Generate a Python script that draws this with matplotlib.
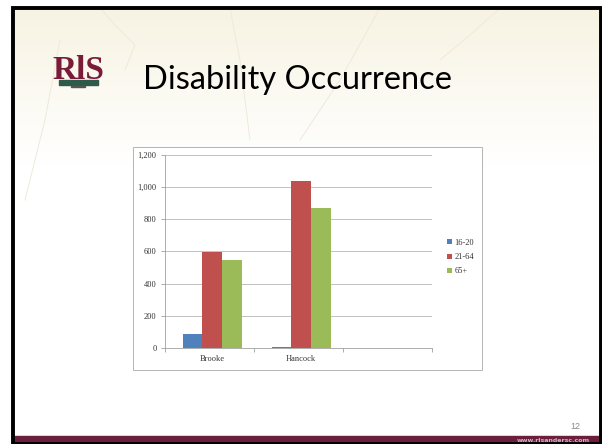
import numpy as np
import matplotlib.pyplot as plt
from matplotlib.patches import Rectangle

# data
categories = ['Brooke', 'Hancock', '']
series = ['16-20', '21-64', '65+']
values = {
    '16-20': [85, 8, 0],
    '21-64': [597, 1040, 0],
    '65+': [545, 872, 0],
}
colors = ['#4F81BD', '#C0504D', '#9BBB59']
yticks = [0, 200, 400, 600, 800, 1000, 1200]

W, H = 602, 444
fig = plt.figure(figsize=(W / 100, H / 100), dpi=100)
fig.patch.set_facecolor('white')

# slide background (pixel coords)
bg = fig.add_axes([0, 0, 1, 1])
bg.set_xlim(0, W)
bg.set_ylim(H, 0)
bg.axis('off')

grad = np.linspace(0, 1, 200)[:, None]
top = np.array([247, 243, 226]) / 255
bot = np.array([255, 255, 255]) / 255
t = np.clip(grad * 1.6, 0, 1)
img = top * (1 - t)[..., None] + bot * t[..., None]
img = np.repeat(img, 2, axis=1)
bg.imshow(img, extent=[13, 601, 260, 8], aspect='auto', zorder=0)

# faint decorative curves
for xs, ys in [([25, 45, 60], [200, 120, 40]), ([100, 115, 135, 125], [8, 25, 45, 70]),
               ([230, 240, 250], [8, 60, 140]), ([300, 340, 380], [140, 80, 8]),
               ([440, 470, 500], [60, 35, 8])]:
    bg.plot(xs, ys, color='#efe9d8', lw=0.7, zorder=1)

# slide frame
bg.add_patch(Rectangle((13, 8), 588, 436, fill=False, ec='black', lw=2.8, zorder=5))
bg.add_patch(Rectangle((14, 435.5), 587, 9, color='#6b1f3c', zorder=4))
bg.text(590, 440.5, 'www.rlsandersc.com', color='#cdb3bf', fontsize=4.5,
        ha='right', va='center', family='DejaVu Sans', fontweight='bold', zorder=6)
bg.text(580, 431, '12', color='#8c8c8c', fontsize=6.5, ha='right', va='bottom',
        family='Liberation Sans')

# logo
bg.text(78, 79, 'RlS', color='#7a1b3a', fontsize=24, ha='center', va='baseline',
        family='Liberation Serif', fontweight='bold')
bg.add_patch(Rectangle((59, 80), 39, 5.5, color='#2f5a4a', zorder=3))
bg.add_patch(Rectangle((71, 86), 14, 1.2, color='#555555', zorder=3))

# title
bg.text(143, 89, 'Disability Occurrence', fontsize=23.5, family='Lato',
        ha='left', va='baseline', color='black')

# chart box
bg.add_patch(Rectangle((133, 147), 349, 223, fc='white', ec='#b4b4b4', lw=0.7, zorder=2))

# chart
ax = fig.add_axes([165 / W, 1 - 348 / H, 267 / W, 193 / H])
ax.set_facecolor('none')
x = np.arange(len(categories))
bw = 0.22
for i, (s, c) in enumerate(zip(series, colors)):
    ax.bar(x + (i - 1) * bw + 0.03, values[s], bw, color=c, label=s, zorder=3)

ax.set_xlim(-0.5, len(categories) - 0.5)
ax.set_ylim(0, 1200)
ax.set_yticks(yticks)
ax.set_yticklabels([f'{v:,}' for v in yticks])
ax.set_xticks(x + 0.03)
ax.set_xticklabels(categories)
ax.set_xticks(np.arange(-0.5, len(categories)), minor=True)
ax.tick_params(axis='x', which='major', length=0, pad=5)
ax.tick_params(axis='x', which='minor', length=3, color='#a0a0a0', width=0.6)
ax.tick_params(axis='y', length=3, color='#a0a0a0', width=0.6, pad=3)
for lab in ax.get_xticklabels() + ax.get_yticklabels():
    lab.set_family('Liberation Serif')
    lab.set_fontsize(6)
    lab.set_color('#333333')
ax.yaxis.grid(True, color='#b8b8b8', lw=0.6, zorder=0)
for side in ['top', 'right']:
    ax.spines[side].set_visible(False)
for side in ['left', 'bottom']:
    ax.spines[side].set_color('#a0a0a0')
    ax.spines[side].set_linewidth(0.6)

leg = ax.legend(loc='center left', bbox_to_anchor=(443 / W, 1 - 257 / H),
                bbox_transform=fig.transFigure, frameon=False,
                prop={'family': 'Liberation Serif', 'size': 6},
                handlelength=0.55, handleheight=0.55, handletextpad=0.3,
                labelspacing=0.75, borderpad=0)
for txt in leg.get_texts():
    txt.set_color('#333333')

fig.savefig('out.png', dpi=100)
